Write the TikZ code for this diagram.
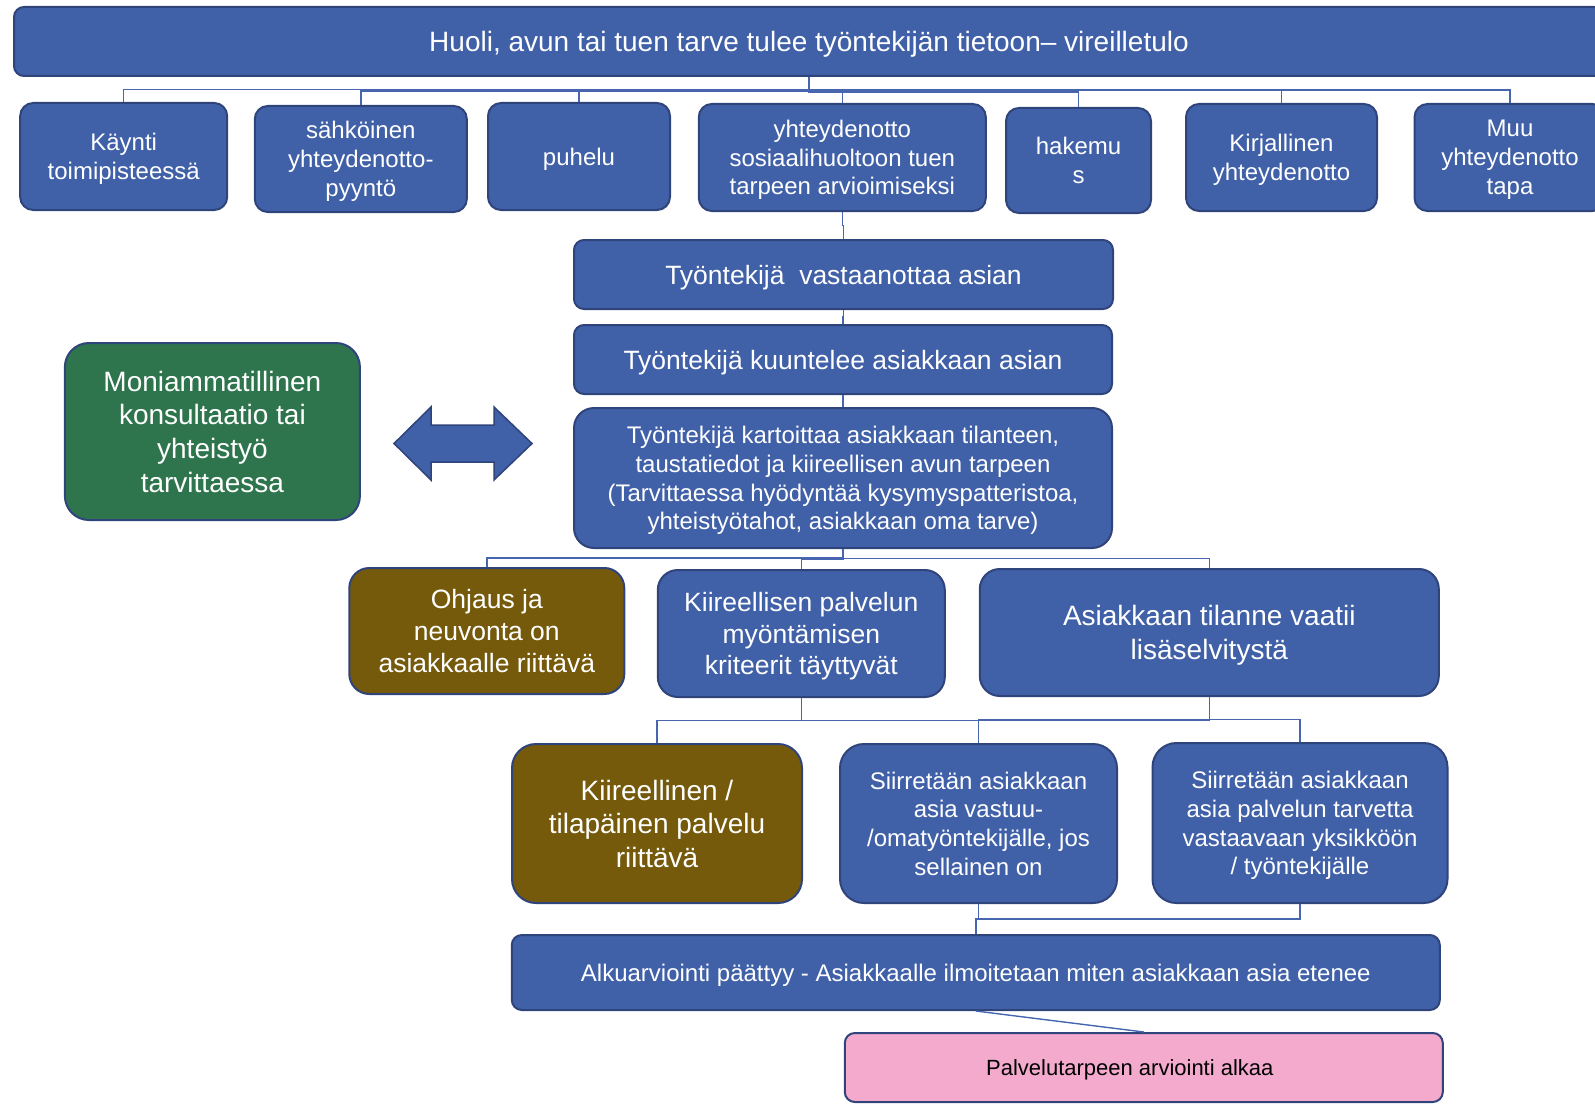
\documentclass[tikz,border=0pt]{standalone}
\usepackage{fontspec}
\setmainfont{Liberation Sans}
\usepackage{tikz}
\usetikzlibrary{calc,positioning}
\definecolor{boxblue}{RGB}{64,96,168}
\definecolor{boxline}{RGB}{47,68,122}
\definecolor{linkblue}{RGB}{72,102,176}
\definecolor{okbrown}{RGB}{117,90,11}
\definecolor{teamgreen}{RGB}{46,117,78}
\definecolor{nextpink}{RGB}{243,170,205}
\newcommand\Branch[2]{\draw[conn] (#1.south) |- ($(#1.south)!0.5!(#2.north)$) -| (#2.north);}
\tikzset{
  box/.style={
    shape = rectangle,
    draw = boxline,
    line width = 2pt,
    fill = boxblue,
    text = white,
    align = center,
    inner sep = 0pt,
    text depth = -1pt,
    rounded corners = 13pt
  },
  bigbox/.style={
    box,
    rounded corners = 24pt
  },
  conn/.style={
    draw = linkblue,
    line width = 1.4pt
  },
  fsmall/.style={font = \fontsize{24}{28.8}\selectfont},
  fmid/.style={font = \fontsize{26.5}{31.8}\selectfont},
  fbig/.style={font = \fontsize{28}{33.6}\selectfont},
  fpink/.style={font = \fontsize{22}{26.4}\selectfont}
}
\begin{document}
\begin{tikzpicture}[x=1pt, y=-1pt]
    \useasboundingbox (0,0) rectangle (1595,1105);
    \clip (0,0) rectangle (1595,1105);

    \node[box, fbig, rounded corners = 10pt, minimum width = 1590pt, minimum height = 69pt] (vireille) at (809,41.5) {Huoli, avun tai tuen tarve tulee työntekijän tietoon– vireilletulo};

    \node[box, fsmall, minimum width = 207pt, minimum height = 107pt] (kaynti) at (123.7,156.5) {Käynti\\toimipisteessä};
    \node[box, fsmall, minimum width = 212pt, minimum height = 106pt] (sahko) at (360.8,159) {sähköinen\\yhteydenotto-\\pyyntö};
    \node[box, fsmall, minimum width = 182pt, minimum height = 107pt] (puhelu) at (579,156.5) {puhelu};
    \node[box, fsmall, minimum width = 287pt, minimum height = 107pt] (yhteys) at (842.3,157.5) {yhteydenotto\\sosiaalihuoltoon tuen\\tarpeen arvioimiseksi};
    \node[box, fsmall, minimum width = 145pt, minimum height = 105pt] (hakemus) at (1078.5,160.5) {hakemu\\s};
    \node[box, fsmall, minimum width = 191pt, minimum height = 107pt] (kirje) at (1281.5,157.5) {Kirjallinen\\yhteydenotto};
    \node[box, fsmall, minimum width = 191pt, minimum height = 107pt] (muu) at (1510,157.5) {Muu\\yhteydenotto\\tapa};

    \node[box, fmid, rounded corners = 10pt, minimum width = 539pt, minimum height = 69pt] (vastaan) at (843.5,274.5) {Työntekijä~ vastaanottaa asian};
    \node[box, fmid, rounded corners = 10pt, minimum width = 538pt, minimum height = 69pt] (kuuntelee) at (843,359.5) {Työntekijä kuuntelee asiakkaan asian};
    \node[box, fsmall, rounded corners = 20pt, minimum width = 538pt, minimum height = 140pt] (kartoitus) at (843,478) {Työntekijä kartoittaa asiakkaan tilanteen,\\taustatiedot ja kiireellisen avun tarpeen\\(Tarvittaessa hyödyntää kysymyspatteristoa,\\yhteistyötahot, asiakkaan oma tarve)};

    \node[bigbox, fbig, fill = teamgreen, minimum width = 295pt, minimum height = 177pt] (moniamm) at (212.4,431.5) {Moniammatillinen\\konsultaatio tai\\yhteistyö\\tarvittaessa};
    \filldraw[fill = boxblue, draw = boxline, line width = 1.5pt] (394,443.5) -- (431,407) -- (431,425) -- (494,425) -- (494,407) -- (532,443.5) -- (494,480) -- (494,462) -- (431,462) -- (431,480) -- cycle;

    \node[box, fmid, rounded corners = 20pt, fill = okbrown, minimum width = 275pt, minimum height = 126pt] (ohjaus) at (486.8,631) {Ohjaus ja\\neuvonta on\\asiakkaalle riittävä};
    \node[box, fmid, rounded corners = 20pt, minimum width = 287pt, minimum height = 127pt] (kiirpalv) at (801.3,633.5) {Kiireellisen palvelun\\myöntämisen\\kriteerit täyttyvät};
    \node[box, fbig, rounded corners = 20pt, minimum width = 459pt, minimum height = 127pt] (lisaselv) at (1209.3,632.5) {Asiakkaan tilanne vaatii\\lisäselvitystä};

    \node[bigbox, fbig, fill = okbrown, minimum width = 290pt, minimum height = 159pt] (tilap) at (657,823.5) {Kiireellinen /\\tilapäinen palvelu\\riittävä};
    \node[bigbox, fsmall, minimum width = 277pt, minimum height = 159pt] (vastuu) at (978.5,823.5) {Siirretään asiakkaan\\asia vastuu-\\/omatyöntekijälle, jos\\sellainen on};
    \node[bigbox, fsmall, minimum width = 295pt, minimum height = 160pt] (yksikko) at (1300,823) {Siirretään asiakkaan\\asia palvelun tarvetta\\vastaavaan yksikköön\\/ työntekijälle};

    \node[box, fsmall, rounded corners = 10pt, minimum width = 928pt, minimum height = 75pt] (alku) at (975.8,972.5) {Alkuarviointi päättyy - Asiakkaalle ilmoitetaan miten asiakkaan asia etenee};
    \node[box, fpink, rounded corners = 10pt, fill = nextpink, text = black, text depth = -3pt, minimum width = 598pt, minimum height = 69pt] (arvio) at (1143.8,1067.5) {Palvelutarpeen arviointi alkaa\hspace*{28pt}};

    \Branch{vireille}{kaynti}
    \Branch{vireille}{sahko}
    \Branch{vireille}{puhelu}
    \Branch{vireille}{yhteys}
    \Branch{vireille}{hakemus}
    \Branch{vireille}{kirje}
    \Branch{vireille}{muu}
    \Branch{yhteys}{vastaan}
    \Branch{vastaan}{kuuntelee}
    \Branch{kuuntelee}{kartoitus}
    \Branch{kartoitus}{ohjaus}
    \Branch{kartoitus}{kiirpalv}
    \Branch{kartoitus}{lisaselv}
    \Branch{kiirpalv}{tilap}
    \Branch{kiirpalv}{vastuu}
    \Branch{lisaselv}{vastuu}
    \Branch{lisaselv}{yksikko}
    \Branch{vastuu}{alku}
    \Branch{yksikko}{alku}
    \draw[conn] (alku.south) -- (arvio.north);
\end{tikzpicture}
\end{document}
